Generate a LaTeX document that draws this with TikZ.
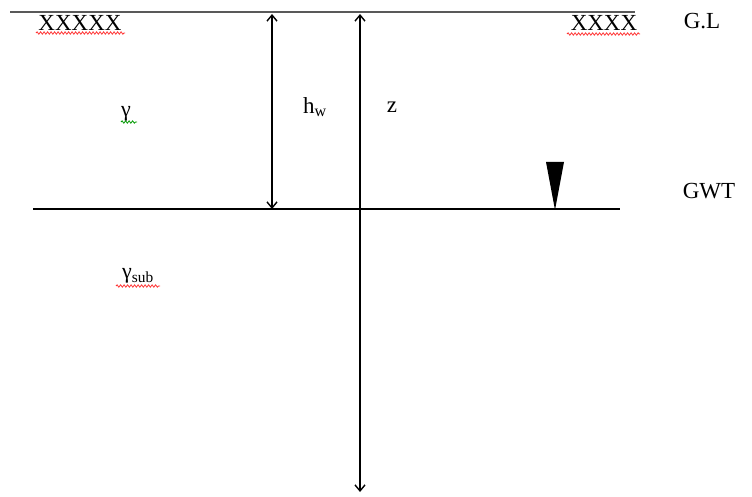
\documentclass[tikz,border=0pt]{standalone}
\usepackage{fontspec}
\setmainfont{Liberation Serif}
\usetikzlibrary{arrows.meta,decorations.pathmorphing}
\begin{document}
\begin{tikzpicture}[x=1pt,y=-1pt,
  lbl/.style={inner sep=0pt,font=\fontsize{23}{27}\selectfont},
  glk/.style={inner sep=0pt,font=\fontsize{22}{26}\selectfont},
  dimarrow/.style={line width=1.4pt,{Straight Barb[length=6pt,width=10pt]}-{Straight Barb[length=6pt,width=10pt]}},
  spell/.style={red!80,line width=0.8pt,decorate,decoration={snake,amplitude=1.2pt,segment length=3.5pt}},
  spellg/.style={green!60!black,line width=0.8pt,decorate,decoration={snake,amplitude=1.2pt,segment length=3.5pt}},
  level/.style={line width=1.5pt}]
\useasboundingbox (0,0) rectangle (752,497);
% ground line and water table
\coordinate (glL) at (10,12);
\coordinate (glR) at (635,12);
\draw[gray!70!black,line width=2.8pt] (glL) -- (glR);
\coordinate (gwtL) at (33,209);
\coordinate (gwtR) at (620,209);
\draw[level] (gwtL) -- (gwtR);
% dimension arrows
\coordinate (hwT) at (272,14);
\coordinate (hwB) at (272,209);
\draw[dimarrow] (hwB) -- (hwT);
\coordinate (zT) at (360,14);
\coordinate (zB) at (360,492);
\draw[dimarrow] (zB) -- (zT);
% water table marker
\coordinate (triL) at (546,162);
\coordinate (triR) at (564,162);
\coordinate (triB) at (555,210);
\fill (triL) -- (triR) -- (triB) -- cycle;
% labels
\node[lbl] (x5) at (80,23) {XXXXX};
\node[lbl] (x4) at (604,23) {XXXX};
\node[lbl] (gl) at (702,21) {G.L};
\node[lbl] (gwt) at (709,191) {GWT};
\node[lbl] (hw) at (315,107) {h\textsubscript{w}};
\node[lbl] (z) at (392,107) {z};
\node[glk] (gam) at (126,114) {γ};
\node[glk] (gsub) at (138,276) {γ\textsubscript{sub}};
% spelling underlines
\draw[spell] (36,33) -- (125,33);
\draw[spell] (567,34) -- (640,34);
\draw[spellg] (121,122) -- (137,122);
\draw[spell] (116,286) -- (160,286);
\end{tikzpicture}
\end{document}
